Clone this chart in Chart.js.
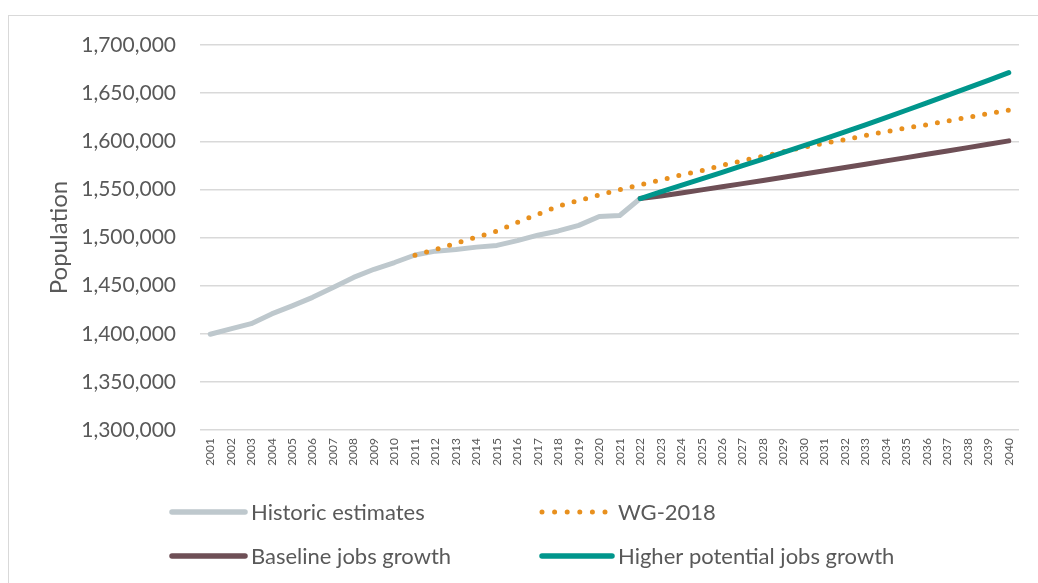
<!DOCTYPE html>
<html>
<head>
<meta charset="utf-8">
<script src="https://cdn.jsdelivr.net/npm/chart.js@4/dist/chart.umd.min.js"></script>
<style>
  body { margin: 0; background: #fff; }
  #wrap { position: relative; width: 1038px; height: 583px; overflow: hidden; }
  #frame { position: absolute; left: 8px; top: 15px; width: 1100px; height: 700px;
           border-top: 1.5px solid #d9d9d9; border-left: 1.5px solid #d9d9d9; }
  canvas { position: absolute; left: 0; top: 0; }
</style>
</head>
<body>
<div id="wrap">
  <div id="frame"></div>
  <canvas id="grafico"></canvas>
</div>
<script>
// anos 2001..2040
const anos = ["2001","2002","2003","2004","2005","2006","2007","2008","2009","2010",
  "2011","2012","2013","2014","2015","2016","2017","2018","2019","2020",
  "2021","2022","2023","2024","2025","2026","2027","2028","2029","2030",
  "2031","2032","2033","2034","2035","2036","2037","2038","2039","2040"];

const historico = [1399500, 1405000, 1410500, 1420600, 1429000, 1437800, 1448000, 1458500, 1467000, 1474000,
  1481800, 1485800, 1487600, 1490000, 1491800, 1496800, 1502400, 1506800, 1512600, 1521800,
  1522900, 1540500, null, null, null, null, null, null, null, null,
  null, null, null, null, null, null, null, null, null, null];

const wg2018 = [null, null, null, null, null, null, null, null, null, null,
  1481600, 1487400, 1494100, 1500300, 1506600, 1515700, 1524100, 1532500, 1538500, 1544100,
  1549700, 1554800, 1559700, 1564900, 1569400, 1575000, 1579800, 1584400, 1589200, 1593700,
  1597900, 1601700, 1605900, 1610000, 1613800, 1617200, 1621000, 1624800, 1628600, 1632400];

const baseline = [null, null, null, null, null, null, null, null, null, null,
  null, null, null, null, null, null, null, null, null, null,
  null, 1540500, 1543100, 1546300, 1549500, 1552800, 1556000, 1559300, 1562600, 1566000,
  1569400, 1572800, 1576200, 1579600, 1583000, 1586400, 1589900, 1593400, 1596900, 1600400];

const maiorPotencial = [null, null, null, null, null, null, null, null, null, null,
  null, null, null, null, null, null, null, null, null, null,
  null, 1540500, 1547300, 1554100, 1560900, 1567700, 1574600, 1581500, 1588400, 1595400,
  1602400, 1609700, 1617100, 1624600, 1632200, 1639800, 1647600, 1655400, 1663300, 1671300];

const yMin = 1300000, yMax = 1700000, yPasso = 50000;

const corTexto = "#595959";
const corGrade = "#d9d9d9";

// legenda desenhada a mao (2 colunas x 2 linhas)
const legendaItens = [
  { ds: 0, col: 0, row: 0 },
  { ds: 1, col: 1, row: 0 },
  { ds: 2, col: 0, row: 1 },
  { ds: 3, col: 1, row: 1 },
];
const legendaPlugin = {
  id: "legendaManual",
  afterDraw(chart) {
    const ctx = chart.ctx;
    const colX = [172, 542];
    const textoX = [251, 618];
    const rowY = [512, 556];
    ctx.save();
    ctx.font = "22px Lato";
    ctx.textBaseline = "middle";
    ctx.fillStyle = corTexto;
    legendaItens.forEach((it) => {
      const ds = chart.data.datasets[it.ds];
      const x0 = colX[it.col], y = rowY[it.row];
      ctx.strokeStyle = ds.borderColor;
      ctx.lineCap = "round";
      let x1 = textoX[it.col] - 6;
      if (ds.borderDash) {
        ctx.lineWidth = 5;
        ctx.setLineDash([0, 12.6]);
        x1 = x0 + 64;
      } else {
        ctx.lineWidth = 5.5;
        ctx.setLineDash([]);
      }
      ctx.beginPath();
      ctx.moveTo(x0, y);
      ctx.lineTo(x1, y);
      ctx.stroke();
      ctx.setLineDash([]);
      ctx.fillText(ds.label, textoX[it.col], y + 1);
    });
    ctx.restore();
  },
};

Chart.defaults.font.family = "Lato";
Chart.defaults.color = corTexto;

new Chart(document.getElementById("grafico"), {
  type: "line",
  data: {
    labels: anos,
    datasets: [
      { label: "Historic estimates", data: historico, borderColor: "#bec8cd", borderWidth: 5, order: 3 },
      { label: "WG-2018", data: wg2018, borderColor: "#e8901e", borderWidth: 5,
        borderDash: [0, 12], borderCapStyle: "round", order: 2 },
      { label: "Baseline jobs growth", data: baseline, borderColor: "#6e4f56", borderWidth: 5, order: 1 },
      { label: "Higher potential jobs growth", data: maiorPotencial, borderColor: "#00968c", borderWidth: 5, order: 0 },
    ],
  },
  options: {
    responsive: true,
    maintainAspectRatio: false,
    animation: false,
    layout: { padding: { left: 0, right: 19, top: 45, bottom: 108 } },
    elements: {
      point: { radius: 0 },
      line: { tension: 0, borderCapStyle: "round", borderJoinStyle: "round" },
    },
    plugins: { legend: { display: false }, tooltip: { enabled: false } },
    scales: {
      x: {
        offset: true,
        grid: { display: false, drawTicks: false },
        border: { display: false },
        ticks: { autoSkip: false, maxRotation: 90, minRotation: 90, padding: 8,
                 font: { size: 12 }, color: corTexto },
        afterFit: (s) => { s.height = 45; },
      },
      y: {
        min: yMin,
        max: yMax,
        grid: { color: corGrade, lineWidth: 1.5, drawTicks: false },
        border: { display: false },
        ticks: { stepSize: yPasso, padding: 24, font: { size: 21 }, color: corTexto,
                 callback: (v) => v.toLocaleString("en-US") },
        title: { display: true, text: "Population", font: { size: 24 }, color: corTexto,
                 padding: { top: 45, bottom: 0 } },
        afterFit: (s) => { s.width = 200; },
      },
    },
  },
  plugins: [legendaPlugin],
});
</script>
</body>
</html>
